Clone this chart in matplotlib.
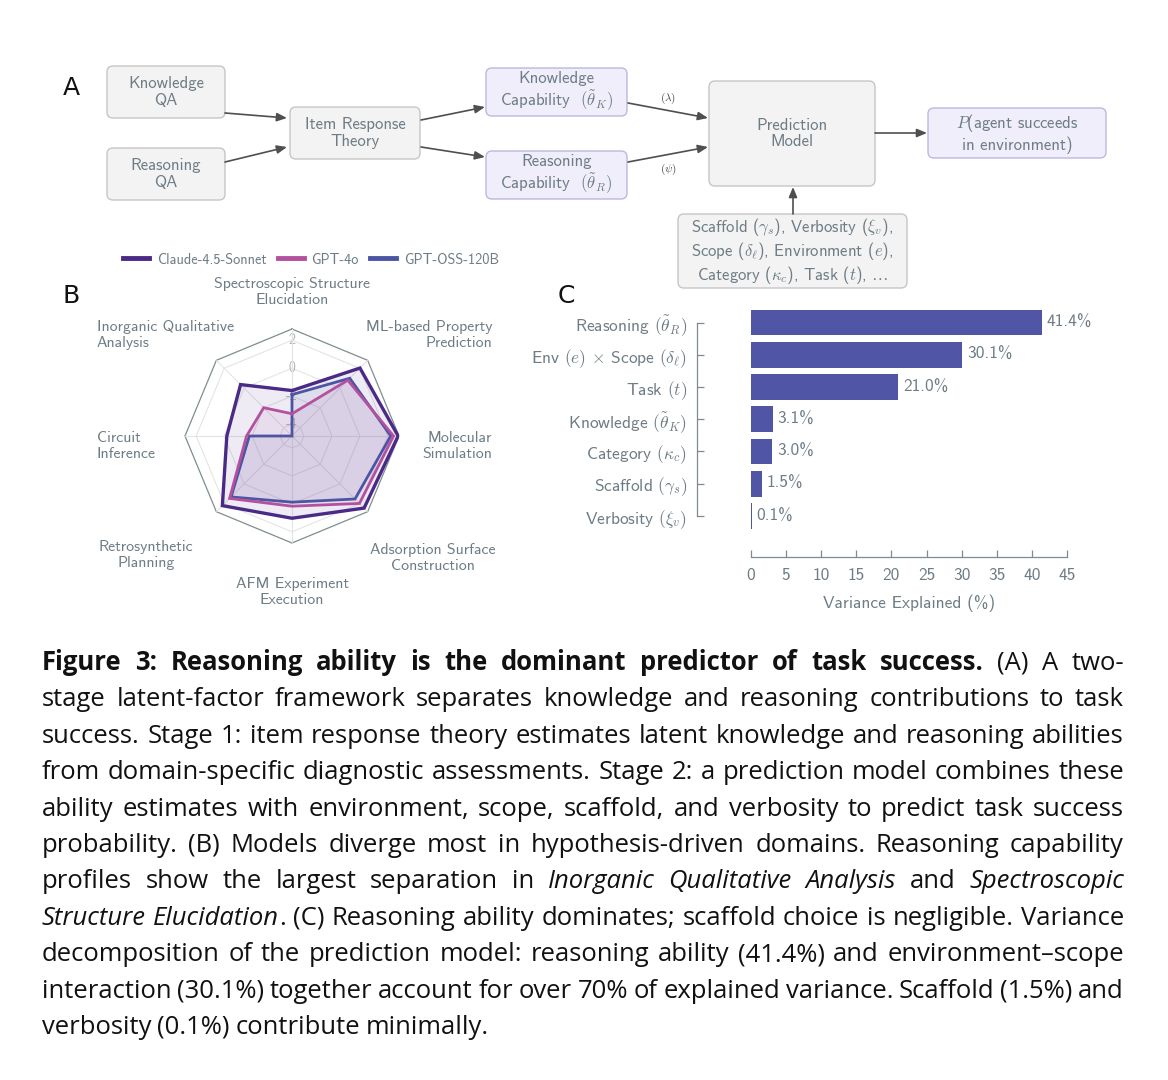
import re
import matplotlib
matplotlib.use('Agg')
import matplotlib.pyplot as plt
import numpy as np
from matplotlib.patches import FancyBboxPatch
from matplotlib.lines import Line2D

plt.rcParams['font.family'] = ['cmss10', 'DejaVu Sans']
plt.rcParams['axes.unicode_minus'] = False
plt.rcParams['mathtext.fontset'] = 'cm'

W, H = 1168, 1080

# ---- panel B data (radar) ----
categories = ['Spectroscopic Structure\nElucidation', 'ML-based Property\nPrediction',
              'Molecular\nSimulation', 'Adsorption Surface\nConstruction',
              'AFM Experiment\nExecution', 'Retrosynthetic\nPlanning',
              'Circuit\nInference', 'Inorganic Qualitative\nAnalysis']
models = ['Claude-4.5-Sonnet', 'GPT-4o', 'GPT-OSS-120B']
claude = [-1.60, 2.02, 2.74, 2.44, 1.03, 2.19, -0.19, 0.35]
gpt4o = [-3.26, 0.79, 2.41, 1.97, 0.17, 1.46, -1.60, -1.99]
gptoss = [-1.89, 0.99, 2.21, 1.52, -0.12, 1.31, -1.80, -4.85]
radial_ticks = [-4, -2, 0, 2]

# ---- panel C data (bars) ----
bar_labels = [r'Reasoning $(\tilde{\theta}_R)$', r'Env $(e)$ $\times$ Scope $(\delta_\ell)$',
              r'Task $(t)$', r'Knowledge $(\tilde{\theta}_K)$', r'Category $(\kappa_c)$',
              r'Scaffold $(\gamma_s)$', r'Verbosity $(\xi_v)$']
bar_values = [41.4, 30.1, 21.0, 3.1, 3.0, 1.5, 0.1]
x_ticks = [0, 5, 10, 15, 20, 25, 30, 35, 40, 45]

caption_lines = [
    "**Figure 3: Reasoning ability is the dominant predictor of task success.** (A) A two-",
    "stage latent-factor framework separates knowledge and reasoning contributions to task",
    "success. Stage 1: item response theory estimates latent knowledge and reasoning abilities",
    "from domain-specific diagnostic assessments. Stage 2: a prediction model combines these",
    "ability estimates with environment, scope, scaffold, and verbosity to predict task success",
    "probability. (B) Models diverge most in hypothesis-driven domains. Reasoning capability",
    "profiles show the largest separation in *Inorganic Qualitative Analysis* and *Spectroscopic*",
    "*Structure Elucidation*. (C) Reasoning ability dominates; scaffold choice is negligible. Variance",
    "decomposition of the prediction model: reasoning ability (41.4%) and environment\u2013scope",
    "interaction (30.1%) together account for over 70% of explained variance. Scaffold (1.5%) and",
    "verbosity (0.1%) contribute minimally.",
]

TXT = '#6d7c85'
colors = ['#4a2a86', '#b4519f', '#4c55a3']

fig = plt.figure(figsize=(W / 100, H / 100), dpi=100)
bg = fig.add_axes([0, 0, 1, 1])
bg.set_xlim(0, W)
bg.set_ylim(H, 0)
bg.axis('off')

# ---- panel A: flow diagram ----
boxes = [
    (107, 66, 225, 118, 'Knowledge\nQA', 'g'),
    (107, 148, 225, 200, 'Reasoning\nQA', 'g'),
    (290, 107, 420, 159, 'Item Response\nTheory', 'g'),
    (486, 68, 627, 116, 'Knowledge\nCapability  $(\\tilde{\\theta}_K)$', 'p'),
    (486, 151, 627, 199, 'Reasoning\nCapability  $(\\tilde{\\theta}_R)$', 'p'),
    (709, 81, 875, 186, 'Prediction\nModel', 'g'),
    (928, 108, 1106, 158, '$P$(agent succeeds\nin environment)', 'p'),
    (678, 214, 907, 288, 'Scaffold ($\\gamma_s$), Verbosity ($\\xi_v$),\n'
     'Scope ($\\delta_\\ell$), Environment ($e$),\nCategory ($\\kappa_c$), Task ($t$), $\\ldots$', 'g'),
]
for x0, y0, x1, y1, label, kind in boxes:
    fc, ec = ('#f3f3f3', '#c6c6c6') if kind == 'g' else ('#efeefa', '#bcb8e0')
    bg.add_patch(FancyBboxPatch((x0, y0), x1 - x0, y1 - y0,
                                boxstyle='round,pad=0,rounding_size=6',
                                fc=fc, ec=ec, lw=1.0))
    bg.text((x0 + x1) / 2, (y0 + y1) / 2, label, ha='center', va='center',
            fontsize=12, color=TXT, linespacing=1.15, math_fontfamily='cm')

arrows = [((225, 113), (287, 118)), ((225, 162), (287, 147)),
          ((421, 120), (485, 107)), ((421, 147), (485, 157)),
          ((628, 103), (708, 118)), ((628, 162), (708, 147)),
          ((875, 133), (927, 133)), ((793, 214), (793, 187))]
for (xa, ya), (xb, yb) in arrows:
    bg.annotate('', xy=(xb, yb), xytext=(xa, ya),
                arrowprops=dict(arrowstyle='-|>,head_length=0.6,head_width=0.25',
                                color='#4f4f4f', lw=1.2, shrinkA=0, shrinkB=0))
bg.text(668, 98, r'$(\lambda)$', ha='center', va='center', fontsize=8, color='#444444')
bg.text(668, 169, r'$(\psi)$', ha='center', va='center', fontsize=8, color='#444444')

for letter, (lx, ly) in zip('ABC', [(71, 88), (71, 296), (566, 296)]):
    bg.text(lx, ly, letter, ha='center', va='center', fontsize=18,
            family='DejaVu Sans', color='#111111')

# ---- panel B: radar ----
cx, cy, R = 292, 436, 107
rax = fig.add_axes([(cx - R) / W, 1 - (cy + R) / H, 2 * R / W, 2 * R / H],
                   projection='polar')
rax.set_theta_zero_location('N')
rax.set_theta_direction(-1)
rmin, rmax = -4.85, 2.8
rax.set_ylim(rmin, rmax)
rax.grid(False)
rax.spines['polar'].set_visible(False)
rax.set_xticks([])
rax.set_yticks([])
rax.patch.set_alpha(0)

n = len(categories)
theta = np.arange(n) * 2 * np.pi / n
tc = np.append(theta, theta[0])
for r in radial_ticks:
    rax.plot(tc, [r] * (n + 1), color='#e4e4e4', lw=0.8, zorder=1)
    rax.text(0.0, r, str(r), ha='center', va='center', fontsize=10,
             color='#b5b5b5', zorder=1)
rax.plot(tc, [rmax] * (n + 1), color='#7f8d8f', lw=0.9, zorder=1, clip_on=False)
for t in theta:
    rax.plot([t, t], [rmin, rmax], color='#e4e4e4', lw=0.8, zorder=1)

series = [claude, gpt4o, gptoss]
for vals, col in zip(series, colors):
    vc = np.append(vals, vals[0])
    rax.fill(tc, vc, color=col, alpha=0.09, lw=0, zorder=2)
for vals, col, lw in zip(series[::-1], colors[::-1], [2.0, 2.0, 2.4]):
    vc = np.append(vals, vals[0])
    rax.plot(tc, vc, color=col, lw=lw, zorder=3, solid_joinstyle='miter')

cat_pos = [(292, 292, 'center'), (492, 335, 'right'), (492, 446, 'right'),
           (433, 558, 'center'), (292, 592, 'center'), (146, 555, 'center'),
           (97, 446, 'left'), (97, 335, 'left')]
for lab, (px, py, ha) in zip(categories, cat_pos):
    bg.text(px, py, lab, ha=ha, va='center', fontsize=11.4, color=TXT,
            linespacing=1.2, multialignment=ha)

handles = [Line2D([], [], color=c, lw=3.5) for c in colors]
fig.legend(handles, models, loc='center', bbox_to_anchor=(311 / W, 1 - 259.5 / H),
           ncol=3, frameon=False, fontsize=10.3, handlelength=1.8,
           handletextpad=0.55, columnspacing=0.8, labelcolor=TXT, borderpad=0)

# ---- panel C: bars ----
top, bot = 306.4, 532.0
bax = fig.add_axes([751 / W, 1 - bot / H, 316 / W, (bot - top) / H])
bax.tick_params(axis='both', direction='in', length=5, width=0.9, color='#7d8a90',
                labelsize=12.5, labelcolor=TXT)
bax.tick_params(axis='y', pad=7)
bax.tick_params(axis='x', pad=8)
ypos = np.arange(len(bar_values))
bax.barh(ypos, bar_values, height=0.8, color='#5055a6', lw=0)
bax.set_xlim(0, 45)
bax.set_ylim(len(bar_values) - 0.5, -0.5)
for y, v in zip(ypos, bar_values):
    bax.text(v + 0.7, y, f'{v:.1f}%', ha='left', va='center', fontsize=12.5,
             color=TXT, clip_on=False)
bax.set_yticks(ypos)
bax.set_yticklabels(bar_labels, fontsize=12.5, color=TXT)
for lab in bax.get_yticklabels():
    lab.set_math_fontfamily('stixsans')
bax.set_xticks(x_ticks)
bax.set_xticklabels([str(x) for x in x_ticks], fontsize=12.5, color=TXT)
bax.set_xlabel('Variance Explained (%)', fontsize=12.5, color=TXT, labelpad=8)
for s in ['top', 'right']:
    bax.spines[s].set_visible(False)
bax.spines['left'].set_position(('outward', 39))
bax.spines['left'].set_bounds(0, len(bar_values) - 1)
bax.spines['bottom'].set_position(('outward', 18))
bax.spines['bottom'].set_bounds(0, 45)
for s in ['left', 'bottom']:
    bax.spines[s].set_color('#7d8a90')
    bax.spines[s].set_linewidth(0.9)
bax.patch.set_alpha(0)

# ---- caption (justified) ----
renderer = fig.canvas.get_renderer()
cap_size = 17.0
cap_fam = ['Open Sans', 'Lato', 'DejaVu Sans']
left, right = 42, 1124
base0, lead = 670, 36.4
state = {'bold': False, 'italic': False}

lines = []
for i, line in enumerate(caption_lines):
    words = []
    for raw in line.split(' '):
        pieces = []
        for tok in re.split(r'(\*\*|\*)', raw):
            if tok == '**':
                state['bold'] = not state['bold']
            elif tok == '*':
                state['italic'] = not state['italic']
            elif tok:
                t = bg.text(0, base0 + i * lead, tok, fontsize=cap_size, family=cap_fam,
                            fontweight='bold' if state['bold'] else 'normal',
                            fontstyle='italic' if state['italic'] else 'normal',
                            color='#111111', ha='left', va='baseline')
                pieces.append(t)
        if pieces:
            words.append(pieces)
    lines.append(words)


def measure(words):
    return [[t.get_window_extent(renderer).width for t in ws] for ws in words]


# fit the size so the widest justified line keeps a normal word space
space_em = 0.22
scale = 1e9
for words in lines[:-1]:
    natural = sum(sum(w) for w in measure(words))
    natural += (len(words) - 1) * space_em * cap_size * 100 / 72
    scale = min(scale, (right - left) / natural)
cap_size *= scale
for words in lines:
    for ws in words:
        for t in ws:
            t.set_fontsize(cap_size)

for i, words in enumerate(lines):
    widths = measure(words)
    tot = [sum(w) for w in widths]
    if i < len(lines) - 1:
        gap = (right - left - sum(tot)) / (len(words) - 1)
    else:
        gap = space_em * cap_size * 100 / 72
    x = left
    for ws, wl, wt in zip(words, widths, tot):
        xx = x
        for t, w in zip(ws, wl):
            t.set_x(xx)
            xx += w
        x += wt + gap

fig.savefig('out.png', dpi=100)
